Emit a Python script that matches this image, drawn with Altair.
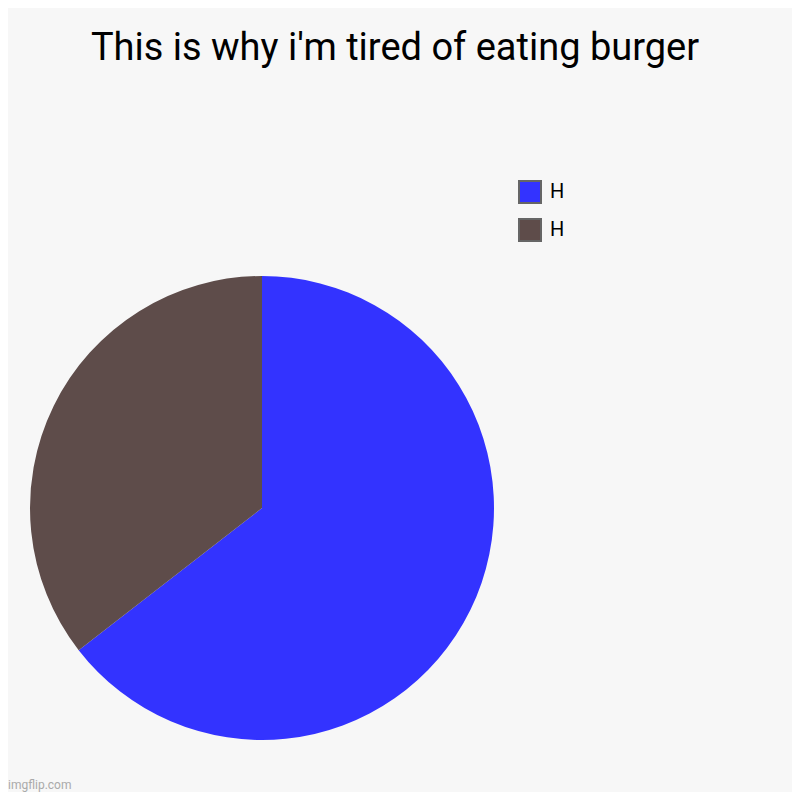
import altair as alt
import pandas as pd

title_text = "This is why i'm tired of eating burger"
labels = ["H", "H"]
values = [64.5, 35.5]
colors = ["#3333ff", "#5e4c4a"]

keys = [f"s{i}" for i in range(len(labels))]
df = pd.DataFrame({"key": keys, "label": labels, "value": values, "order": list(range(len(labels)))})

label_map = "{" + ",".join(f"'{k}':'{l}'" for k, l in zip(keys, labels)) + "}"

PAD_TOP = 80
W = 784
H = 784 - PAD_TOP

pie = alt.Chart(df).mark_arc(outerRadius=232).encode(
    theta=alt.Theta("value:Q", stack=True),
    order=alt.Order("order:Q"),
    color=alt.Color(
        "key:N",
        scale=alt.Scale(domain=keys, range=colors),
        sort=keys,
        legend=alt.Legend(
            title=None,
            orient="none",
            legendX=510,
            legendY=92,
            symbolType="square",
            symbolSize=484,
            symbolStrokeColor="#666666",
            symbolStrokeWidth=2,
            labelFontSize=20,
            labelFont="Roboto",
            labelColor="#000000",
            rowPadding=8,
            labelOffset=8,
            labelExpr=f"{label_map}[datum.value]",
        ),
    ),
    x=alt.value(254),
    y=alt.value(500 - PAD_TOP),
)

wm = alt.Chart(pd.DataFrame({"t": ["imgflip.com"]})).mark_text(
    align="left", baseline="alphabetic", fontSize=12, font="Roboto", color="#aaaaaa"
).encode(text="t:N", x=alt.value(0), y=alt.value(781 - PAD_TOP))

chart = alt.layer(pie, wm).properties(
    width=W,
    height=H,
    autosize=alt.AutoSizeParams(type="none"),
    padding={"left": 0, "top": PAD_TOP, "right": 0, "bottom": 0},
    title=alt.TitleParams(
        title_text,
        font="Roboto",
        fontSize=38,
        fontWeight="normal",
        color="#000000",
        anchor="middle",
        frame="group",
        baseline="alphabetic",
        offset=-10,
        dx=-5,
    ),
).configure(background="#f7f7f7").configure_view(stroke=None)

chart.save("out.html", embed_options={"renderer": "svg", "actions": False})
